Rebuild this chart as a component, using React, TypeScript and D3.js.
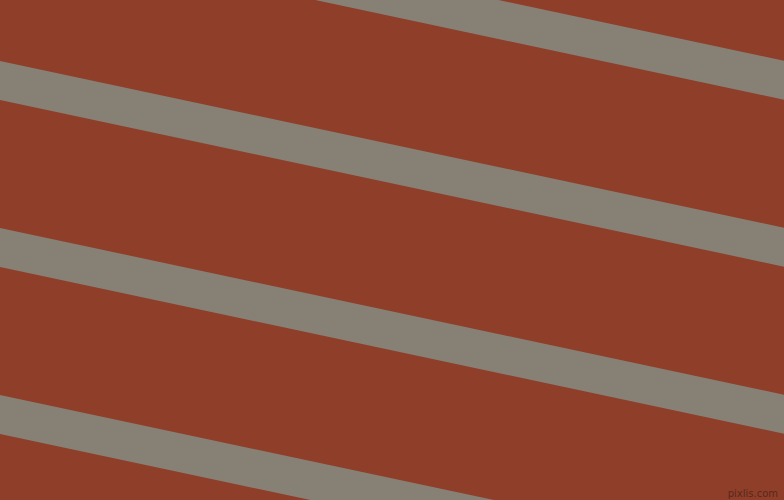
import { useEffect, useRef } from 'react';
import * as d3 from 'd3';

// Stripe top edges where they meet the left border (px), and their band height
const stripeStarts = [-106, 61, 228, 395, 562];
const bandHeight = 39;
const slopeDegrees = 12;

const width = 784;
const height = 500;

export default function App() {
    const svgRef = useRef<SVGSVGElement>(null);

    useEffect(() => {
        document.body.style.margin = '0';
        if (!svgRef.current) return;

        const svg = d3.select(svgRef.current);
        svg.selectAll('*').remove();

        svg.append('rect')
            .attr('width', width)
            .attr('height', height)
            .attr('fill', '#8e3e29');

        const x = d3.scaleLinear().domain([0, 1]).range([0, width]);
        const rise = Math.tan((slopeDegrees * Math.PI) / 180) * width;

        const line = d3.line<[number, number]>()
            .x(d => x(d[0]))
            .y(d => d[1]);

        stripeStarts.forEach(y0 => {
            const pts: [number, number][] = [
                [0, y0],
                [1, y0 + rise],
                [1, y0 + rise + bandHeight],
                [0, y0 + bandHeight],
            ];
            svg.append('path')
                .attr('d', line(pts)! + 'Z')
                .attr('fill', '#878075');
        });

        // Watermark
        svg.append('text')
            .attr('x', width - 6)
            .attr('y', height - 3)
            .attr('text-anchor', 'end')
            .attr('font-family', 'DejaVu Sans')
            .attr('font-size', '10px')
            .attr('fill', '#4a2218')
            .attr('fill-opacity', 0.8)
            .text('pixlis.com');
    }, []);

    return (
        <svg
            ref={svgRef}
            width={width}
            height={height}
            style={{ position: 'fixed', top: 0, left: 0, display: 'block' }}
        />
    );
}
